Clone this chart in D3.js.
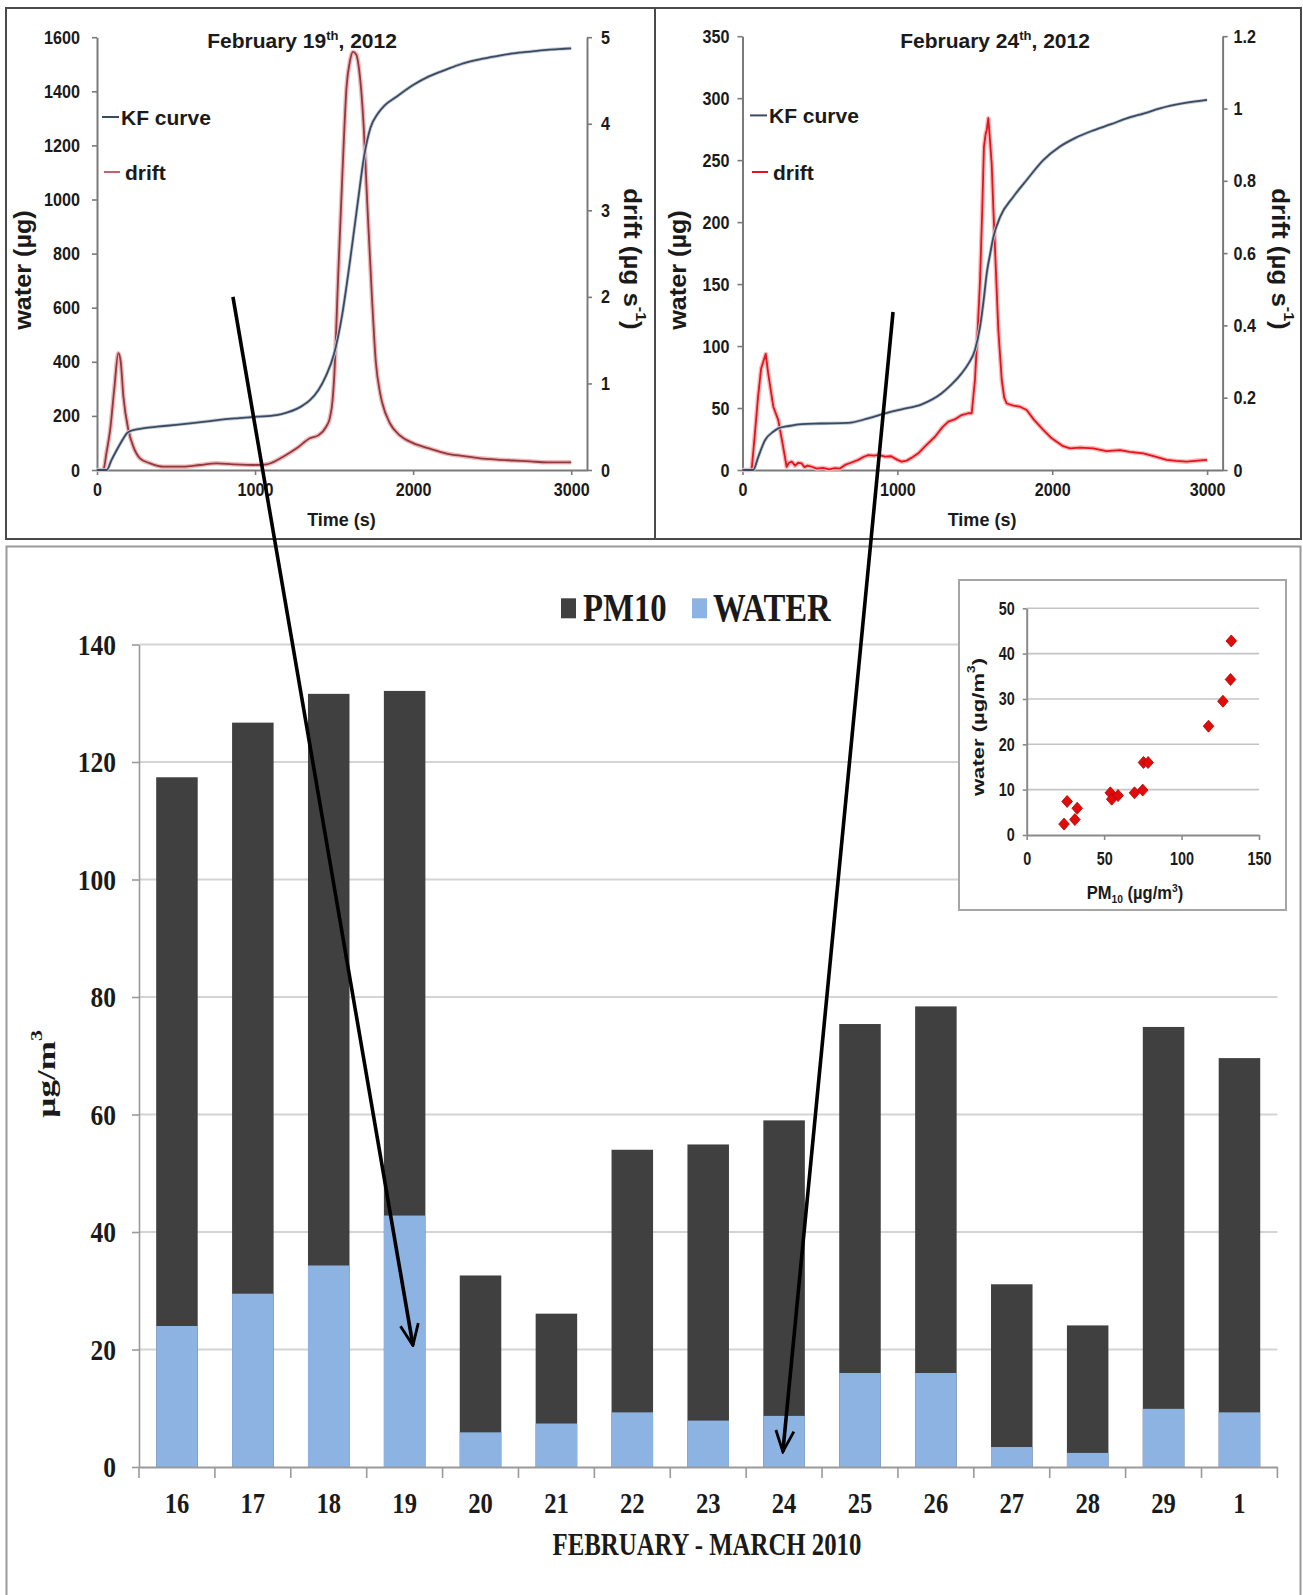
<!DOCTYPE html>
<html>
<head>
<meta charset="utf-8">
<script src="https://cdn.jsdelivr.net/npm/d3@7"></script>
<style>
body { margin: 0; background: #fff; }
svg { display: block; }
</style>
</head>
<body>
<div id="chart"></div>
<script>
"use strict"
// ---- data ----
const days = ["16","17","18","19","20","21","22","23","24","25","26","27","28","29","1"];
const pm10 = [117.4,126.7,131.6,132.1,32.6,26.1,54.0,54.9,59.0,75.4,78.4,31.1,24.1,74.9,69.6];
const water = [24.0,29.5,34.3,42.8,5.9,7.4,9.3,7.9,8.7,16.0,16.0,3.4,2.4,9.9,9.3];

// February 19th titration
const kf19Time  = [0,62,90,125,160,188,220,252,300,378,500,589,700,799,900,1010,1137,1200,1263,1300,1347,1400,1450,1500,1550,1600,1650,1690,1730,1777,1820,1895,2000,2100,2212,2300,2422,2530,2633,2740,2844,2920,3000];
const kf19Water = [0,0,35,74,110,135.6,146,150.4,155,160,167,172.6,180,187,192,197,203,212,226,238,258,295,350,430,570,770,990,1160,1265,1318,1348,1380,1423,1455,1481,1500,1518,1530,1540,1547,1553,1556,1559];
const drift19Time = [0,40,60,83,110,135,150,167,199,230,272,336,420,546,652,757,862,1010,1074,1178,1263,1347,1400,1450,1473,1490,1500,1526,1553,1579,1600,1619,1640,1658,1685,1711,1738,1764,1790,1804,1853,1916,2000,2100,2212,2322,2422,2530,2633,2740,2844,3000];
const drift19Rate = [0,0,0.2,0.46,0.95,1.35,1.25,0.85,0.46,0.27,0.135,0.077,0.038,0.038,0.058,0.077,0.066,0.058,0.066,0.154,0.25,0.366,0.40,0.5,0.6,0.8,1.05,2.25,3.44,4.43,4.72,4.83,4.8,4.63,4.04,3.04,2.05,1.25,0.9,0.78,0.54,0.40,0.31,0.25,0.19,0.16,0.135,0.12,0.11,0.1,0.089,0.089];

// February 24th titration
const kf24Time  = [0,70,100,145,200,231,300,382,500,683,812,920,1028,1157,1286,1350,1415,1460,1501,1534,1560,1577,1600,1620,1663,1749,1835,1942,2050,2150,2265,2380,2481,2600,2696,2850,3000];
const kf24Water = [0,0,10,24,31,33.6,35.5,37,37.5,38,41.7,45.7,49,53,61.9,69,78,86,96.8,115.6,140,158.7,175,188,204,220.5,234,250,261,268,274,279,283.7,288,291.8,296,298.6];
const drift24Time = [0,59,80,100,120,150,165,199,231,260,285,300,318,340,360,382,400,420,447,480,520,560,597,630,662,700,748,780,812,850,880,920,960,1000,1028,1060,1100,1135,1180,1243,1290,1329,1370,1415,1458,1480,1501,1520,1534,1548,1559,1570,1577,1583,1587,1595,1609,1620,1630,1652,1674,1690,1706,1750,1792,1835,1880,1942,1990,2029,2070,2115,2180,2265,2350,2438,2500,2588,2660,2739,2800,2868,2940,3000];
const drift24Rate = [0,0,0.1,0.2,0.28,0.321,0.27,0.175,0.138,0.07,0.009,0.02,0.023,0.012,0.02,0.018,0.008,0.012,0.009,0.004,0.006,0.002,0.005,0.004,0.014,0.02,0.028,0.036,0.041,0.04,0.042,0.037,0.038,0.028,0.023,0.026,0.036,0.046,0.066,0.092,0.118,0.134,0.14,0.152,0.157,0.157,0.249,0.4,0.526,0.72,0.894,0.93,0.94,0.96,0.973,0.93,0.848,0.72,0.618,0.387,0.249,0.2,0.184,0.178,0.175,0.166,0.14,0.111,0.09,0.078,0.066,0.06,0.062,0.06,0.052,0.055,0.05,0.046,0.038,0.028,0.025,0.023,0.026,0.028];

// ticks
const timeTicks = [0,1000,2000,3000];
const water19Ticks = [0,200,400,600,800,1000,1200,1400,1600];
const drift19Ticks = [0,1,2,3,4,5];
const water24Ticks = [0,50,100,150,200,250,300,350];
const drift24Ticks = [0,0.2,0.4,0.6,0.8,1,1.2];
const barTicks = [0,20,40,60,80,100,120,140];
const insetXTicks = [0,50,100,150];
const insetYTicks = [0,10,20,30,40,50];

// arrows: from a point in a titration panel to a day of the bar chart
const arrowFrom = [{panel: 0, t: 860, w: 640}, {panel: 1, t: 972, w: 127.5}];
const arrowTo = [{day: "19", v: 20.7, off: 0.7}, {day: "24", v: 2.6, off: 0.47}];

const sans = "'Liberation Sans', Arial, sans-serif";
const serif = "'Liberation Serif', 'Times New Roman', serif";

const svg = d3.select("#chart").append("svg").attr("width", 1303).attr("height", 1595);
svg.append("rect").attr("width", 1303).attr("height", 1595).attr("fill", "#fff");

//helpers
function squeeze(sel, sx) {
    sel.each(function() {
        const t = d3.select(this);
        const x = +t.attr("x") || 0, y = +t.attr("y") || 0;
        t.attr("transform", `translate(${x},${y}) scale(${sx},1) translate(${-x},${-y})`);
    });
}

function richText(text, parts, size) {
    let shift = 0;
    parts.forEach(p => {
        const s = p.sup ? -size * 0.38 : p.sub ? size * 0.22 : 0;
        text.append("tspan").attr("dy", s - shift)
            .attr("font-size", (p.sup || p.sub) ? size * 0.62 : size).text(p.t);
        shift = s;
    });
}

function styleAxis(a, family, size, sx, stroke) {
    a.select(".domain").attr("stroke", stroke).attr("stroke-width", 2);
    a.selectAll(".tick line").attr("stroke", stroke).attr("stroke-width", 1.6);
    a.selectAll(".tick text").attr("font-family", family).attr("font-size", size)
        .attr("font-weight", "bold").attr("fill", "#1a1a1a").call(squeeze, sx);
}

// label rotated around its centre; stretch lengthens it along its own direction
function turnedLabel(cx, cy, angle, stretch, family, size, parts) {
    const t = svg.append("text")
        .attr("transform", `translate(${cx},${cy}) rotate(${angle}) scale(${stretch},1)`)
        .attr("text-anchor", "middle").attr("dominant-baseline", "central")
        .attr("font-family", family).attr("font-weight", "bold").attr("font-size", size)
        .attr("fill", "#1a1a1a");
    richText(t, parts, size);
}

function flatLabel(x, y, anchor, sx, family, size, parts, fill) {
    const t = svg.append("text").attr("x", x).attr("y", y)
        .attr("text-anchor", anchor).attr("font-family", family).attr("font-weight", "bold")
        .attr("font-size", size).attr("fill", fill || "#1a1a1a");
    richText(t, parts, size);
    squeeze(t, sx);
}

// ---- top panels ----
svg.append("rect").attr("x", 6).attr("y", 8).attr("width", 649).attr("height", 531)
    .attr("fill", "none").attr("stroke", "#4a4a4a").attr("stroke-width", 2);
svg.append("rect").attr("x", 655).attr("y", 8).attr("width", 646).attr("height", 531)
    .attr("fill", "none").attr("stroke", "#4a4a4a").attr("stroke-width", 2);

function drawPanel(p) {
    const x = d3.scaleLinear().domain([0, 3100]).range(p.xr);
    const yW = d3.scaleLinear().domain(p.wDom).range(p.yr);
    const yD = d3.scaleLinear().domain(p.dDom).range(p.yr);
    const g = svg.append("g");
    const fmt = d => String(d);

    const gx = g.append("g").attr("transform", `translate(0,${p.yr[0]})`)
        .call(d3.axisBottom(x).tickValues(timeTicks).tickFormat(fmt).tickSize(5).tickSizeOuter(0).tickPadding(8));
    const gl = g.append("g").attr("transform", `translate(${p.xr[0]},0)`)
        .call(d3.axisLeft(yW).tickValues(p.wTicks).tickFormat(fmt).tickSize(5).tickSizeOuter(0).tickPadding(p.padL));
    const gr = g.append("g").attr("transform", `translate(${p.xr[1]},0)`)
        .call(d3.axisRight(yD).tickValues(p.dTicks).tickFormat(fmt).tickSize(5).tickSizeOuter(0).tickPadding(p.padR));
    [gx, gl, gr].forEach(a => styleAxis(a, sans, 19, 0.85, "#7a7a7a"));

    const kfLine = d3.line().x((d, i) => x(p.kfT[i])).y(d => yW(d)).curve(d3.curveMonotoneX);
    const driftLine = d3.line().x((d, i) => x(p.dT[i])).y(d => yD(d)).curve(p.dCurve);

    g.append("path").datum(p.dR).attr("d", driftLine).attr("fill", "none")
        .attr("stroke", p.halo).attr("stroke-width", 4.5).attr("stroke-linejoin", "round");
    g.append("path").datum(p.dR).attr("d", driftLine).attr("fill", "none")
        .attr("stroke", p.red).attr("stroke-width", 1.8).attr("stroke-linejoin", "round");
    g.append("path").datum(p.kfW).attr("d", kfLine).attr("fill", "none")
        .attr("stroke", "#c3ccd8").attr("stroke-width", 3.5);
    g.append("path").datum(p.kfW).attr("d", kfLine).attr("fill", "none")
        .attr("stroke", "#3b4a60").attr("stroke-width", 1.8);

    // legend
    g.append("line").attr("x1", p.lx).attr("x2", p.lx + 17).attr("y1", p.ly1).attr("y2", p.ly1)
        .attr("stroke", "#3b4a60").attr("stroke-width", 2);
    flatLabel(p.lx + 19, p.ly1 + 7.5, "start", 1, sans, 21, [{t: "KF curve"}]);
    g.append("line").attr("x1", p.lx + 2).attr("x2", p.lx + 18).attr("y1", p.ly2).attr("y2", p.ly2)
        .attr("stroke", p.legendRed).attr("stroke-width", 2);
    flatLabel(p.lx + 23, p.ly2 + 7.5, "start", 1, sans, 21, [{t: "drift"}]);

    flatLabel(p.titleX, 48, "middle", 1, sans, 21, [{t: p.day}, {t: "th", sup: true}, {t: ", 2012"}]);
    flatLabel((p.xr[0] + p.xr[1]) / 2 - 0.5, 526, "middle", 1, sans, 18, [{t: "Time (s)"}]);
    turnedLabel(p.wLabelX, 270, -90, 1.05, sans, 24, [{t: "water (µg)"}]);
    turnedLabel(p.dLabelX, 259, 90, 1.08, sans, 24, [{t: "drift (µg s"}, {t: "-1", sup: true}, {t: ")"}]);

    return {x: x, y: yW};
}

const panels = [
    drawPanel({xr: [97, 587], yr: [470, 37.2], wDom: [0, 1600], dDom: [0, 5],
        wTicks: water19Ticks, dTicks: drift19Ticks, padL: 12, padR: 9,
        kfT: kf19Time, kfW: kf19Water, dT: drift19Time, dR: drift19Rate, dCurve: d3.curveMonotoneX,
        red: "#8e3a40", halo: "#f0b8b8", legendRed: "#c86068",
        lx: 102, ly1: 117, ly2: 172, titleX: 302, day: "February 19", wLabelX: 22, dLabelX: 633}),
    drawPanel({xr: [742.5, 1222.6], yr: [470, 36.2], wDom: [0, 350], dDom: [0, 1.2],
        wTicks: water24Ticks, dTicks: drift24Ticks, padL: 8, padR: 6,
        kfT: kf24Time, kfW: kf24Water, dT: drift24Time, dR: drift24Rate, dCurve: d3.curveLinear,
        red: "#e3141e", halo: "#f8b8b8", legendRed: "#e3141e",
        lx: 750, ly1: 115.4, ly2: 172, titleX: 995, day: "February 24", wLabelX: 677, dLabelX: 1281})
];

// ---- bar chart ----
svg.append("rect").attr("x", 6.5).attr("y", 546.5).attr("width", 1294).attr("height", 1060)
    .attr("fill", "none").attr("stroke", "#9a9a9a").attr("stroke-width", 2);

const bx = d3.scaleBand().domain(days).range([139, 1277.4]).paddingInner(0.453).paddingOuter(0.2265);
const by = d3.scaleLinear().domain([0, 140]).range([1467, 644.5]);

const bars = svg.append("g");
bars.selectAll(".grid").data(barTicks.slice(1)).enter().append("line")
    .attr("x1", 139).attr("x2", 1277.4).attr("y1", d => by(d)).attr("y2", d => by(d))
    .attr("stroke", "#d4d4d4").attr("stroke-width", 2.2);

bars.selectAll(".pm").data(pm10).enter().append("rect")
    .attr("x", (d, i) => bx(days[i])).attr("width", bx.bandwidth())
    .attr("y", d => by(d)).attr("height", d => by(0) - by(d)).attr("fill", "#404040");
bars.selectAll(".wa").data(water).enter().append("rect")
    .attr("x", (d, i) => bx(days[i])).attr("width", bx.bandwidth())
    .attr("y", d => by(d)).attr("height", d => by(0) - by(d)).attr("fill", "#8db3e2");

const bAxisY = bars.append("g").attr("transform", "translate(139,0)")
    .call(d3.axisLeft(by).tickValues(barTicks).tickFormat(d3.format("d")).tickSize(7).tickSizeOuter(0).tickPadding(16));
styleAxis(bAxisY, serif, 30, 0.85, "#9a9a9a");
bAxisY.select(".domain").attr("stroke-width", 1.6);

const bAxisX = bars.append("g").attr("transform", "translate(0,1467)")
    .call(d3.axisBottom(bx).tickSize(0).tickSizeOuter(0).tickPadding(25));
styleAxis(bAxisX, serif, 30, 0.82, "#9a9a9a");
bars.selectAll(".bound").data(d3.range(days.length + 1)).enter().append("line")
    .attr("x1", i => bx.range()[0] + i * bx.step()).attr("x2", i => bx.range()[0] + i * bx.step())
    .attr("y1", 1467).attr("y2", 1478).attr("stroke", "#9a9a9a").attr("stroke-width", 1.6);

flatLabel(707, 1555.5, "middle", 0.8, serif, 31, [{t: "FEBRUARY - MARCH 2010"}]);
turnedLabel(46, 1074, -90, 1.35, serif, 26, [{t: "µg/m"}, {t: "3", sup: true}]);

// legend
svg.append("rect").attr("x", 561).attr("y", 598.3).attr("width", 15).attr("height", 20).attr("fill", "#404040");
flatLabel(583, 620.7, "start", 0.82, serif, 40, [{t: "PM10"}]);
svg.append("rect").attr("x", 692).attr("y", 598.3).attr("width", 15).attr("height", 20).attr("fill", "#8db3e2");
flatLabel(713, 620.7, "start", 0.82, serif, 40, [{t: "WATER"}]);

// ---- inset scatter ----
svg.append("rect").attr("x", 959).attr("y", 580).attr("width", 327).attr("height", 330)
    .attr("fill", "#fff").attr("stroke", "#a6a6a6").attr("stroke-width", 2);
const sx = d3.scaleLinear().domain([0, 150]).range([1026.7, 1259]);
const sy = d3.scaleLinear().domain([0, 50]).range([835, 608.3]);
const inset = svg.append("g");
inset.selectAll(".grid").data(insetYTicks.slice(1)).enter().append("line")
    .attr("x1", sx(0)).attr("x2", sx(150)).attr("y1", d => sy(d)).attr("y2", d => sy(d))
    .attr("stroke", "#c4c4c4").attr("stroke-width", 1.6);
const iAxisX = inset.append("g").attr("transform", `translate(0,${sy(0)})`)
    .call(d3.axisBottom(sx).tickValues(insetXTicks).tickFormat(d3.format("d")).tickSize(5).tickSizeOuter(0).tickPadding(12));
styleAxis(iAxisX, sans, 18, 0.8, "#8a8a8a");
const iAxisY = inset.append("g").attr("transform", `translate(${sx(0)},0)`)
    .call(d3.axisLeft(sy).tickValues(insetYTicks).tickFormat(d3.format("d")).tickSize(4).tickSizeOuter(0).tickPadding(8));
styleAxis(iAxisY, sans, 18, 0.8, "#8a8a8a");

inset.selectAll(".pt").data(pm10).enter().append("path")
    .attr("transform", (d, i) => `translate(${sx(d)},${sy(water[i])})`)
    .attr("d", "M0,-6L5.3,0L0,6L-5.3,0Z")
    .attr("fill", "#e00c0c").attr("stroke", "#b30000").attr("stroke-width", 0.8);

turnedLabel(978, 727, -90, 1.3, sans, 17, [{t: "water (µg/m"}, {t: "3", sup: true}, {t: ")"}]);
flatLabel(1135, 899, "middle", 0.87, sans, 19, [{t: "PM"}, {t: "10", sub: true}, {t: " (µg/m"}, {t: "3", sup: true}, {t: ")"}]);

// ---- arrows ----
const head = svg.append("defs").append("marker").attr("id", "head")
    .attr("viewBox", "-24 -12 26 24").attr("refX", 0).attr("refY", 0)
    .attr("markerWidth", 26).attr("markerHeight", 24).attr("markerUnits", "userSpaceOnUse")
    .attr("orient", "auto");
head.append("path").attr("d", "M-21,-9L0,0L-21,9").attr("fill", "none")
    .attr("stroke", "#000").attr("stroke-width", 2.8);

arrowFrom.forEach((a, i) => {
    const p = panels[a.panel];
    const to = arrowTo[i];
    svg.append("line")
        .attr("x1", p.x(a.t)).attr("y1", p.y(a.w))
        .attr("x2", bx(to.day) + to.off * bx.bandwidth()).attr("y2", by(to.v))
        .attr("stroke", "#000").attr("stroke-width", 3.6).attr("marker-end", "url(#head)");
});
</script>
</body>
</html>
